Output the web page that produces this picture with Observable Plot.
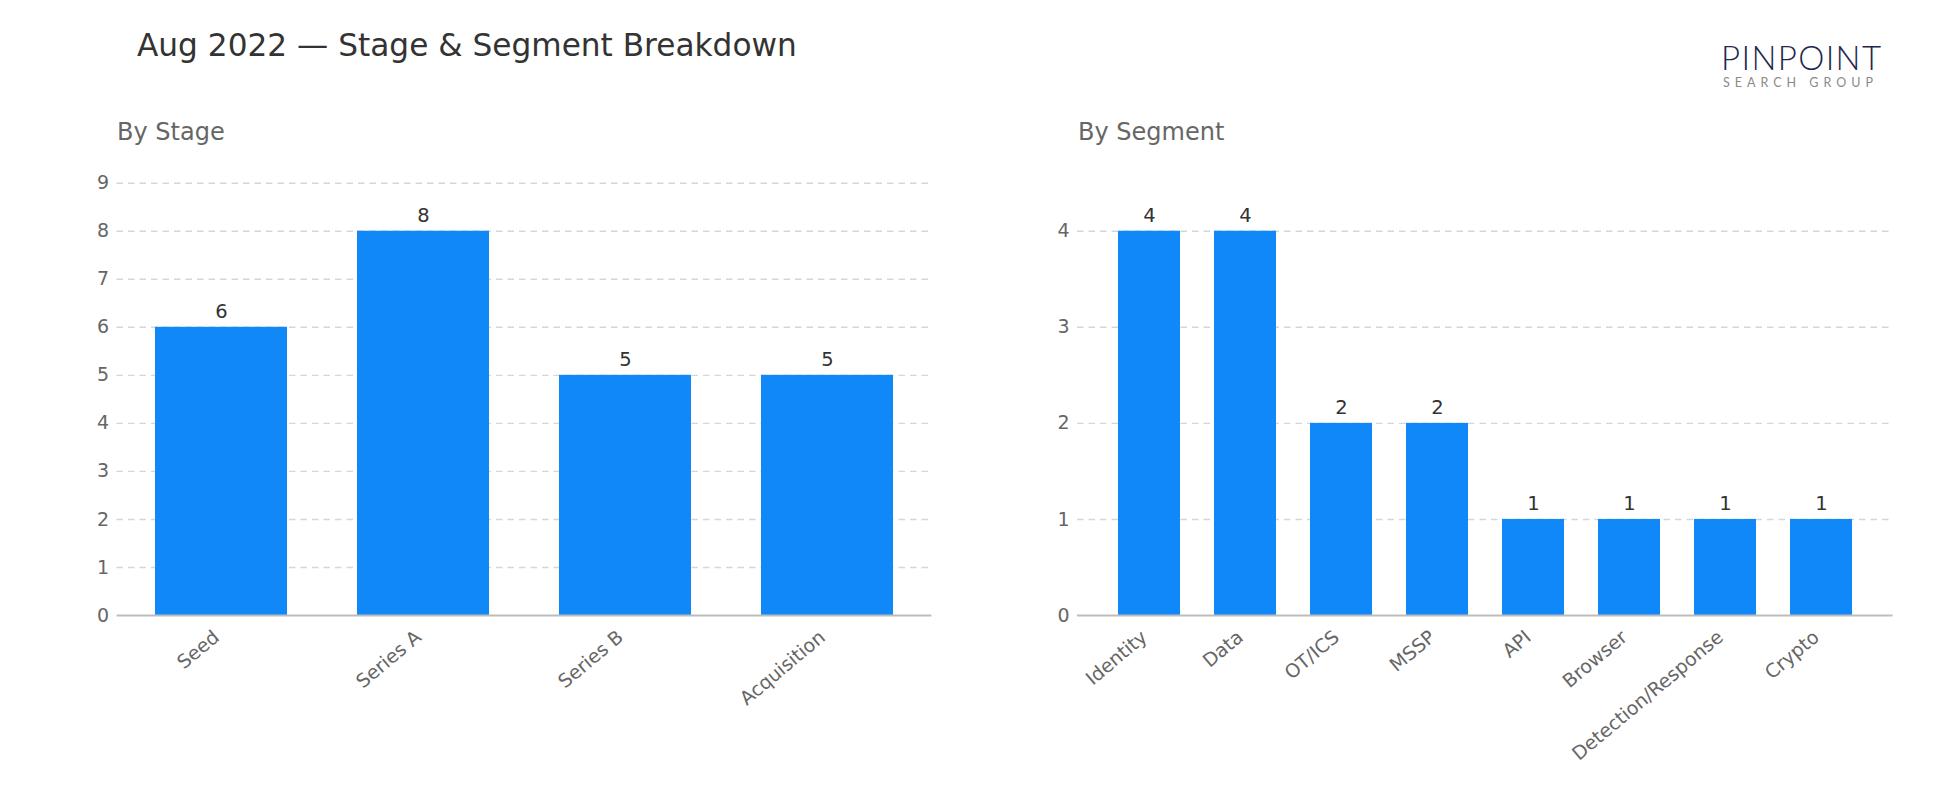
<!DOCTYPE html>
<html>
<head>
<meta charset="utf-8">
<script src="https://cdn.jsdelivr.net/npm/d3@7"></script>
<script src="https://cdn.jsdelivr.net/npm/@observablehq/plot@0.6"></script>
<style>
  html, body { margin: 0; padding: 0; background: #fff; }
  #page { position: relative; width: 1950px; height: 810px; overflow: hidden; font-family: "DejaVu Sans", sans-serif; }
  .abs { position: absolute; line-height: 1; white-space: nowrap; }
  #title { left: 137px; top: 30px; font-size: 31.2px; color: #333; }
  .sub { font-size: 24px; color: #666; top: 120px; }
  #subL { left: 117px; }
  #subR { left: 1078px; }
  #chartL { left: 0; top: 150px; }
  #chartR { left: 975px; top: 150px; }
  #logo { left: 1700px; top: 30px; }
</style>
</head>
<body>
<div id="page">
  <div id="title" class="abs">Aug 2022 — Stage &amp; Segment Breakdown</div>
  <div id="subL" class="abs sub">By Stage</div>
  <div id="subR" class="abs sub">By Segment</div>
  <div id="chartL" class="abs"></div>
  <div id="chartR" class="abs"></div>
  <svg id="logo" class="abs" width="220" height="70">
    <text x="21" y="39.5" textLength="160" lengthAdjust="spacing" font-family="Lato" font-weight="300" font-size="33" fill="#22264a">PINPOINT</text>
    <text x="23" y="56.5" textLength="150" lengthAdjust="spacing" font-family="Lato" font-size="12.5" fill="#8a8a8a">SEARCH GROUP</text>
  </svg>
</div>
<script>
// ---- data ----
const stages = ["Seed", "Series A", "Series B", "Acquisition"];
const stageCounts = [6, 8, 5, 5];
const stageTicks = [0, 1, 2, 3, 4, 5, 6, 7, 8, 9];

const segments = ["Identity", "Data", "OT/ICS", "MSSP", "API", "Browser", "Detection/Response", "Crypto"];
const segmentCounts = [4, 4, 2, 2, 1, 1, 1, 1];
const segmentTicks = [0, 1, 2, 3, 4];

const BAR = "#1188f8";
const FONT = "DejaVu Sans";

function chart(cats, vals, ticks, yMax, opts) {
  const data = cats.map((c, i) => ({cat: c, val: vals[i]}));
  return Plot.plot({
    width: opts.width,
    height: 620,
    marginLeft: opts.marginLeft,
    marginRight: opts.marginRight,
    marginTop: 32.7,
    marginBottom: 155,
    style: {fontFamily: FONT, fontSize: "19px", color: "#666", background: "transparent", overflow: "visible"},
    x: {type: "band", domain: cats, paddingInner: opts.pi, paddingOuter: opts.po, label: null},
    y: {domain: [0, yMax], label: null},
    marks: [
      Plot.gridY(ticks.filter(t => t > 0), {stroke: "#d6d6d6", strokeOpacity: 1, strokeWidth: 1.4, strokeDasharray: "6.5,5"}),
      Plot.barY(data, {x: "cat", y: "val", fill: BAR}),
      Plot.ruleY([0], {stroke: "#bdbdbd", strokeWidth: 1.8}),
      Plot.text(data, {x: "cat", y: "val", text: d => String(d.val), dy: -9, lineAnchor: "bottom", fill: "#333", fontSize: 19.5}),
      Plot.axisY(ticks, {tickSize: 0, tickPadding: 8, fontSize: 19, tickFormat: d => String(d)}),
      Plot.axisX({tickSize: 0, tickPadding: 19, tickRotate: -40, dx: -5, fontSize: 19})
    ]
  });
}

document.getElementById("chartL").append(
  chart(stages, stageCounts, stageTicks, 9, {width: 960, marginLeft: 116.5, marginRight: 28.5, pi: 0.345, po: 0.185})
);
document.getElementById("chartR").append(
  chart(segments, segmentCounts, segmentTicks, 4.5, {width: 975, marginLeft: 102, marginRight: 57.5, pi: 0.35, po: 0.395})
);
</script>
</body>
</html>
